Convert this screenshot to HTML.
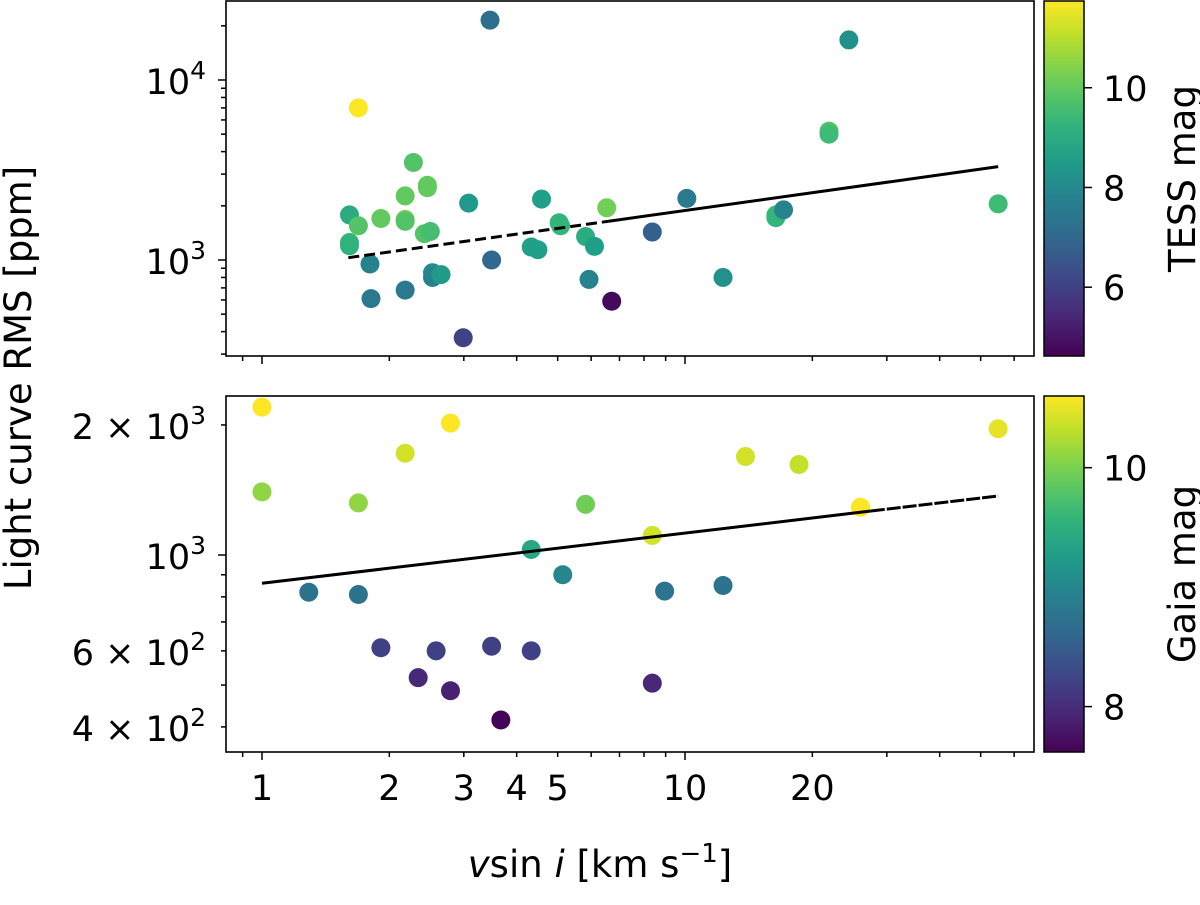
<!DOCTYPE html>
<html><head><meta charset="utf-8"><style>
body{margin:0;background:#fff}
svg{font-family:"DejaVu Sans","Liberation Sans",sans-serif}
</style></head><body>
<svg id="chart" width="1200" height="900" xmlns="http://www.w3.org/2000/svg"></svg>
<script>
// top panel data (vsini, rms ppm, TESS mag)
const topVsini=[3.46,24.4,1.69,21.9,21.9,2.28,2.18,1.61,1.69,1.61,1.61,1.91,2.18,2.18,2.46,2.46,2.42,2.50,3.08,4.58,5.04,5.08,5.82,6.53,10.1,8.37,1.80,1.81,2.18,2.53,2.53,2.65,3.49,4.33,4.49,5.93,6.71,6.11,2.99,12.3,16.4,16.4,17.1,55.0];
const topRms=[21500,16700,7000,5200,5000,3480,2270,1780,1550,1250,1200,1700,1680,1640,2600,2520,1400,1440,2070,2180,1610,1550,1350,1950,2200,1430,950,610,680,850,800,830,1000,1180,1140,780,590,1190,370,800,1780,1720,1900,2050];
const topMag=[7.2,8.2,11.8,9.8,9.5,9.8,10.0,9.0,9.8,9.3,9.2,10.0,10.2,9.8,10.0,10.0,9.8,9.6,8.5,8.6,9.3,9.3,9.0,10.2,7.5,6.8,7.8,7.5,7.5,8.0,7.8,8.5,7.0,8.6,8.6,7.8,4.8,8.6,6.0,8.2,9.5,9.3,7.8,9.5];
const topFit=[[1.6,1030],[55.0,3300]];
// bottom panel data (vsini, rms ppm, Gaia mag)
const botVsini=[1.0,1.0,1.69,2.18,2.79,5.82,4.33,5.14,1.29,1.69,1.91,2.58,3.49,4.33,2.34,2.79,3.67,8.37,8.37,13.9,18.6,26.0,8.95,12.3,55.0];
const botRms=[2200,1400,1320,1720,2020,1310,1030,900,820,810,610,600,615,600,520,485,415,505,1110,1690,1620,1290,825,850,1960];
const botMag=[10.9,10.1,10.1,10.4,10.8,9.95,9.4,9.0,8.75,8.75,8.2,8.2,8.2,8.2,7.95,7.9,7.65,7.95,10.4,10.4,10.35,10.8,8.75,8.75,10.5];
const botFit=[[1.0,860],[55.0,1370]];

const NS="http://www.w3.org/2000/svg";
const svg=document.getElementById('chart');
function el(t,a,p){const e=document.createElementNS(NS,t);for(const k in a)e.setAttribute(k,a[k]);(p||svg).appendChild(e);return e;}
const VIR=[[68,1,84],[72,40,120],[62,73,137],[49,104,142],[38,130,142],[31,158,137],[53,183,121],[109,205,89],[180,222,44],[253,231,37]];
function viridis(t){t=Math.max(0,Math.min(1,t));const f=t*(VIR.length-1),i=Math.min(Math.floor(f),VIR.length-2),r=f-i;const c=VIR[i].map((v,k)=>Math.round(v+(VIR[i+1][k]-v)*r));return `rgb(${c[0]},${c[1]},${c[2]})`;}
const X0=226,X1=1034;
const pxPerDec=423;
function xs(v){return 262+Math.log10(v)*pxPerDec;}
function ysTop(v){return 260-(Math.log10(v)-3)*180;}
function ysBot(v){return 555-(Math.log10(v)-3)*432;}
const panels=[
 {name:'top',y0:1,y1:356,ys:ysTop,xv:topVsini,yv:topRms,cv:topMag,fit:topFit,cmin:4.62,cmax:11.74,cticks:[6,8,10],clabel:'TESS mag',split:6.6,dashFirst:true},
 {name:'bottom',y0:396,y1:752,ys:ysBot,xv:botVsini,yv:botRms,cv:botMag,fit:botFit,cmin:7.62,cmax:10.6,cticks:[8,10],clabel:'Gaia mag',split:27.5,dashFirst:false}
];
panels.forEach(P=>{
 const g=el('g',{});
 
 
 const cp=el('clipPath',{id:'cp'+P.name},g);
 el('rect',{x:X0,y:P.y0,width:X1-X0,height:P.y1-P.y0},cp);
 const pts=el('g',{'clip-path':`url(#cp${P.name})`},g);
 for(let i=0;i<P.xv.length;i++){
  const c=el('circle',{cx:xs(P.xv[i]),cy:P.ys(P.yv[i]),r:9.5,fill:viridis((P.cv[i]-P.cmin)/(P.cmax-P.cmin))},pts);
  
  
 }
 const [a,b]=P.fit;const slope=Math.log10(b[1]/a[1])/Math.log10(b[0]/a[0]);
 const f=v=>a[1]*Math.pow(v/a[0],slope);
 const split=P.split;
 const l1=el('line',{x1:xs(a[0]),y1:P.ys(f(a[0])),x2:xs(split),y2:P.ys(f(split)),stroke:'#000','stroke-width':3,'stroke-dasharray':P.dashFirst?'11,5':'none'},pts);
 
 
 const l2=el('line',{x1:xs(split),y1:P.ys(f(split)),x2:xs(b[0]),y2:P.ys(f(b[0])),stroke:'#000','stroke-width':3,'stroke-dasharray':P.dashFirst?'none':'14,2'},pts);
 
 
 const fr=el('rect',{x:X0,y:P.y0,width:X1-X0,height:P.y1-P.y0,fill:'none',stroke:'#000','stroke-width':1.6},g);
 
 
 const xt=[0.9,1,2,3,4,5,6,7,8,9,10,20,30,40,50,60];
 const xl={1:'1',2:'2',3:'3',4:'4',5:'5',10:'10',20:'20'};
 xt.forEach(v=>{const x=xs(v);if(x<X0||x>X1)return;const maj=(v===1||v===10);
  el('line',{x1:x,y1:P.y1,x2:x,y2:P.y1+(maj?8:5),stroke:'#000','stroke-width':1.5},g);
  if(P.name==='bottom'&&xl[v]){const t=el('text',{x:x,y:P.y1+48,'font-size':35,'text-anchor':'middle'},g);t.textContent=xl[v];
   }
 });
 const ymin=Math.pow(10,3+(P.name==='top'?(260-P.y1)/180:(555-P.y1)/432));
 const ymax=Math.pow(10,3+(P.name==='top'?(260-P.y0)/180:(555-P.y0)/432));
 for(let d=2;d<=4;d++)for(let m=1;m<=9;m++){const v=m*Math.pow(10,d);if(v<ymin||v>ymax)continue;const y=P.ys(v);
  el('line',{x1:X0,y1:y,x2:X0-(m===1?8:5),y2:y,stroke:'#000','stroke-width':1.5},g);
  let lab=null;
  if(m===1)lab='10<tspan dy="-15" font-size="25">'+d+'</tspan>';
  else if(P.name==='bottom'&&(m===2||m===4||m===6))lab=m+' \u00d7 10<tspan dy="-15" font-size="25">'+d+'</tspan>';
  if(lab){const t=el('text',{x:X0-20,y:y+14,'font-size':35,'text-anchor':'end'},g);t.innerHTML=lab;
   }
 }
 const gid='grad'+P.name;const lg=el('linearGradient',{id:gid,x1:0,y1:1,x2:0,y2:0},g);
 for(let i=0;i<=20;i++)el('stop',{offset:i/20,'stop-color':viridis(i/20)},lg);
 const cb=el('rect',{x:1044,y:P.y0,width:40,height:P.y1-P.y0,fill:`url(#${gid})`,stroke:'#000','stroke-width':1.5},g);
 
 P.cticks.forEach(v=>{const y=P.y1-(v-P.cmin)/(P.cmax-P.cmin)*(P.y1-P.y0);
  el('line',{x1:1084,y1:y,x2:1092,y2:y,stroke:'#000','stroke-width':1.5},g);
  const t=el('text',{x:1103,y:y+13,'font-size':35},g);t.textContent=v;
  });
 const cy=(P.y0+P.y1)/2;
 const ct=el('text',{x:1195,y:cy,'font-size':37,'text-anchor':'middle',transform:`rotate(-90 1195 ${cy})`},g);ct.textContent=P.clabel;
 
});
const yl=el('text',{x:31,y:378,'font-size':37,'text-anchor':'middle',transform:'rotate(-90 31 378)'});yl.textContent='Light curve RMS [ppm]';

const xlb=el('text',{x:600,y:877,'font-size':37,'text-anchor':'middle'});
xlb.innerHTML='<tspan font-style="italic">v</tspan>sin<tspan font-style="italic"> i</tspan> [km s<tspan dy="-15" font-size="26">\u22121</tspan><tspan dy="15">]</tspan>';

</script>
</body></html>
